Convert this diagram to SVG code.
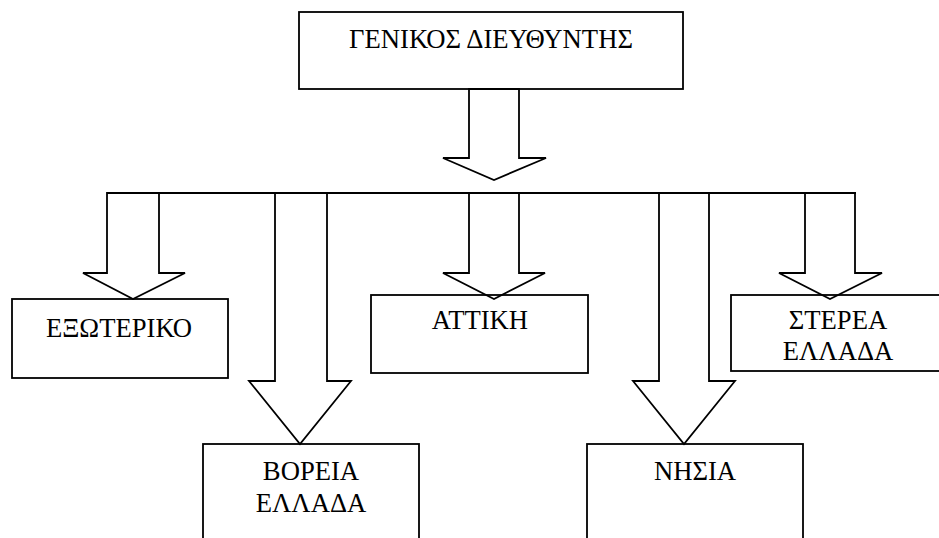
<svg xmlns="http://www.w3.org/2000/svg" width="939" height="538" viewBox="0 0 939 538">
<rect width="939" height="538" fill="#fff"/>
<g id="connectors" fill="#fff" stroke="#000" stroke-width="1.8">
<polyline fill="none" points="107,193 856,193"/>
<polygon points="469,89 469,158 443,158 494,180 546,158 519,158 519,89"/>
<polygon points="107,193 107,273 83,273 133,299 185,273 159,273 159,193"/>
<polygon points="275,193 275,381 249,381 300,444 351,381 327,381 327,193"/>
<polygon points="469,193 469,273 443,273 494,299 545,273 519,273 519,193"/>
<polygon points="659,193 659,381 633,381 684,444 735,381 709,381 709,193"/>
<polygon points="805,193 805,273 779,273 830,299 882,273 855,273 855,193"/>
</g>
<g id="nodes" font-family="Liberation Serif" font-size="26.67" text-anchor="middle">
<g id="n-general">
<rect x="299" y="12" width="384" height="77" fill="none" stroke="#000" stroke-width="1.8"/>
<text x="491" y="48">ΓΕΝΙΚΟΣ ΔΙΕΥΘΥΝΤΗΣ</text>
</g>
<g id="n-exoteriko">
<rect x="12" y="299" width="216" height="79" fill="none" stroke="#000" stroke-width="1.8"/>
<text x="119" y="337">ΕΞΩΤΕΡΙΚΟ</text>
</g>
<g id="n-attiki">
<rect x="371" y="295" width="217" height="78" fill="none" stroke="#000" stroke-width="1.8"/>
<text x="480" y="329">ΑΤΤΙΚΗ</text>
</g>
<g id="n-sterea">
<rect x="731" y="295" width="216" height="76" fill="none" stroke="#000" stroke-width="1.8"/>
<text x="838" y="329">ΣΤΕΡΕΑ</text>
<text x="838" y="360">ΕΛΛΑΔΑ</text>
</g>
<g id="n-voreia">
<rect x="203" y="444" width="216" height="110" fill="none" stroke="#000" stroke-width="1.8"/>
<text x="311" y="480">ΒΟΡΕΙΑ</text>
<text x="311" y="512">ΕΛΛΑΔΑ</text>
</g>
<g id="n-nisia">
<rect x="587" y="444" width="216" height="110" fill="none" stroke="#000" stroke-width="1.8"/>
<text x="695" y="480">ΝΗΣΙΑ</text>
</g>
</g>
</svg>
